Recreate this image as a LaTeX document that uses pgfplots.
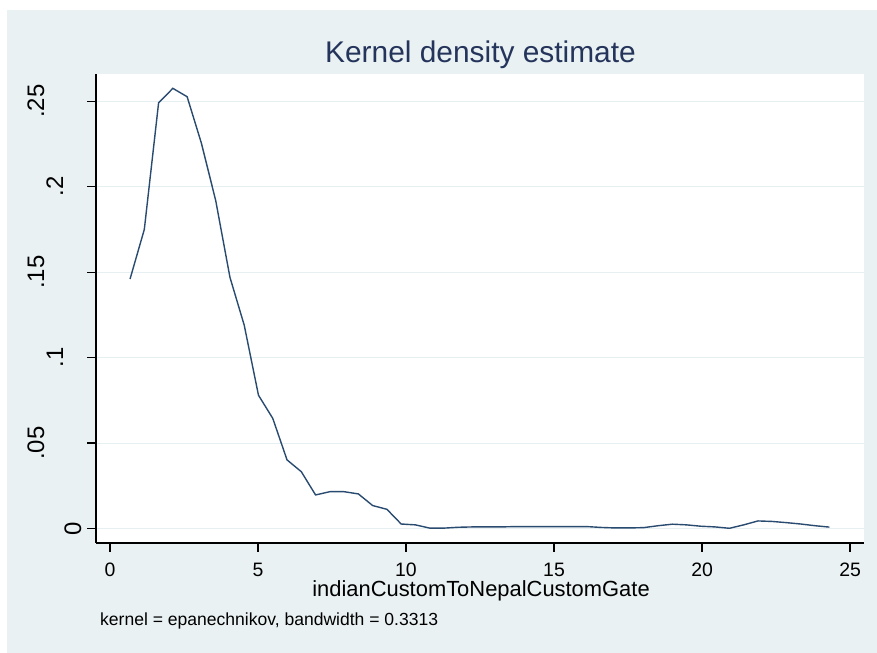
\documentclass[border=0pt]{standalone}
\usepackage{pgfplots}
\pgfplotsset{compat=1.18}
\usepackage{fontspec}
\setmainfont{Liberation Sans}
\definecolor{bgcol}{HTML}{E9F1F3}
\definecolor{gridcol}{HTML}{E6EFF2}
\definecolor{linecol}{HTML}{2A4B70}
\definecolor{titlecol}{HTML}{25345A}
\begin{document}
\begin{tikzpicture}[x=1bp,y=1bp]
\useasboundingbox (0,0) rectangle (877,653);
\fill[white] (0,0) rectangle (877,653);
\fill[bgcol] (7,0) rectangle (877,643);
\begin{axis}[
  at={(96bp,110bp)}, anchor=south west,
  width=768bp, height=469bp, scale only axis,
  xmin=-0.47, xmax=25.47, ymin=-0.0084, ymax=0.2659,
  axis background/.style={fill=white},
  axis x line*=bottom, axis y line*=left,
  axis line style={-, black, line width=1.3bp},
  xtick={0,5,10,15,20,25},
  xticklabels={0,5,10,15,20,25},
  ytick={0,0.05,0.1,0.15,0.2,0.25},
  yticklabels={\raisebox{6bp}{0},\raisebox{43bp}{.05},\raisebox{24bp}{.1},\raisebox{43bp}{.15},\raisebox{24bp}{.2},\raisebox{43bp}{.25}},
  tick align=outside,
  major tick length=9bp,
  tick style={black, line width=1.3bp},
  ymajorgrids,
  major grid style={gridcol, line width=1.2bp},
  xticklabel style={font=\fontsize{19.5}{20}\selectfont, anchor=base, yshift=-25bp},
  yticklabel style={font=\fontsize{24}{25}\selectfont, rotate=90, anchor=base},
  clip=false,
]
\addplot[linecol, line width=1.4bp] coordinates {
(0.680,0.146) (1.162,0.175) (1.644,0.249) (2.126,0.2575) (2.608,0.2526)
(3.090,0.2254) (3.572,0.192) (4.054,0.147) (4.536,0.119) (5.018,0.078)
(5.500,0.0645) (5.982,0.0402) (6.464,0.0333) (6.946,0.0197) (7.428,0.0216)
(7.910,0.0216) (8.392,0.0203) (8.874,0.0135) (9.356,0.0113) (9.838,0.0027)
(10.320,0.0022) (10.802,0.0003) (11.284,0.0003) (11.766,0.0008) (12.248,0.0010)
(12.730,0.0010) (13.212,0.0010) (13.694,0.0012) (14.176,0.0012) (14.658,0.0012)
(15.140,0.0012) (15.622,0.0012) (16.104,0.0012) (16.586,0.0007) (17.068,0.0004)
(17.550,0.0004) (18.032,0.0006) (18.514,0.0017) (18.996,0.0026) (19.478,0.0022)
(19.960,0.0014) (20.442,0.0010) (20.924,0.0002) (21.406,0.0022) (21.888,0.0045)
(22.370,0.0042) (22.852,0.0035) (23.334,0.0027) (23.816,0.0017) (24.298,0.0009)
};
\end{axis}
\node[anchor=base, text=titlecol, font=\fontsize{30}{32}\selectfont, inner sep=0pt] at (480.5,590) {Kernel density estimate};
\node[anchor=base, font=\fontsize{22}{24}\selectfont, inner sep=0pt] at (481,56) {indianCustomToNepalCustomGate};
\node[anchor=base west, font=\fontsize{17.6}{19}\selectfont, inner sep=0pt] at (100,27) {kernel = epanechnikov, bandwidth = 0.3313};
\end{tikzpicture}
\end{document}
